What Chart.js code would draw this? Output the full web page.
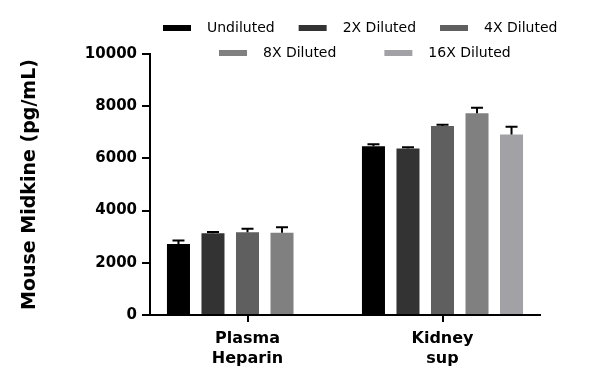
<!DOCTYPE html>
<html>
<head>
<meta charset="utf-8">
<script src="https://cdn.jsdelivr.net/npm/chart.js@4.4.1/dist/chart.umd.min.js"></script>
<style>
  html, body { margin: 0; padding: 0; background: #fff; }
  #wrap { width: 600px; height: 390px; }
</style>
</head>
<body>
<div id="wrap"><canvas id="myChart"></canvas></div>
<script>
var categories = [['Plasma', 'Heparin'], ['Kidney', 'sup']];
var seriesNames = ['Undiluted', '2X Diluted', '4X Diluted', '8X Diluted', '16X Diluted'];
var seriesColors = ['#000000', '#333333', '#5f5f5f', '#808080', '#a2a2a6'];

// mean values per dilution: [Plasma Heparin, Kidney sup]
var undiluted = [2720, 6470];
var diluted2x = [3130, 6380];
var diluted4x = [3170, 7240];
var diluted8x = [3150, 7730];
var diluted16x = [null, 6920];

// upper error (SD)
var errUndiluted = [130, 70];
var err2x = [50, 50];
var err4x = [130, 50];
var err8x = [210, 210];
var err16x = [null, 290];

var yTicks = [0, 2000, 4000, 6000, 8000, 10000];

var seriesValues = [undiluted, diluted2x, diluted4x, diluted8x, diluted16x];
var seriesErrors = [errUndiluted, err2x, err4x, err8x, err16x];

var datasets = seriesNames.map(function (name, i) {
  return {
    label: name,
    data: seriesValues[i],
    errors: seriesErrors[i],
    backgroundColor: seriesColors[i],
    borderWidth: 0,
    categoryPercentage: 0.885,
    barPercentage: 0.667
  };
});

// error bars, drawn only upward
var errorBars = {
  id: 'errorBars',
  afterDatasetsDraw: function (chart) {
    var ctx = chart.ctx;
    var yScale = chart.scales.y;
    ctx.save();
    ctx.strokeStyle = '#000';
    ctx.lineWidth = 2;
    chart.data.datasets.forEach(function (ds, di) {
      var meta = chart.getDatasetMeta(di);
      meta.data.forEach(function (bar, j) {
        var v = ds.data[j];
        var e = ds.errors[j];
        if (v == null || e == null) return;
        var top = yScale.getPixelForValue(v + e);
        ctx.beginPath();
        ctx.moveTo(bar.x, bar.y);
        ctx.lineTo(bar.x, top);
        ctx.moveTo(bar.x - 6, top);
        ctx.lineTo(bar.x + 6, top);
        ctx.stroke();
      });
    });
    ctx.restore();
  }
};

// two-row legend like the original figure
var legendRows = {
  id: 'legendRows',
  afterDraw: function (chart) {
    var ctx = chart.ctx;
    var rows = [
      { items: [0, 1, 2], x: 163, y: 28, gap: 24 },
      { items: [3, 4], x: 219, y: 53, gap: 48 }
    ];
    ctx.save();
    ctx.font = '14px "DejaVu Sans"';
    ctx.textBaseline = 'middle';
    rows.forEach(function (row) {
      var x = row.x;
      row.items.forEach(function (i) {
        ctx.fillStyle = seriesColors[i];
        ctx.fillRect(x, row.y - 3, 28, 6);
        x += 28 + 16;
        ctx.fillStyle = '#000';
        ctx.fillText(seriesNames[i], x, row.y);
        x += ctx.measureText(seriesNames[i]).width + row.gap;
      });
    });
    ctx.restore();
  }
};

var config = {
  type: 'bar',
  data: {
    labels: categories,
    datasets: datasets
  },
  options: {
    responsive: true,
    maintainAspectRatio: false,
    animation: false,
    layout: {
      padding: { top: 54, right: 60, left: 0, bottom: 0 }
    },
    plugins: {
      legend: { display: false },
      tooltip: { enabled: false }
    },
    scales: {
      x: {
        grid: {
          offset: false,
          drawOnChartArea: false,
          color: '#000',
          lineWidth: 2,
          tickLength: 7
        },
        border: { color: '#000', width: 2 },
        ticks: {
          color: '#000',
          padding: 7,
          font: { family: 'DejaVu Sans', size: 16, weight: 'bold', lineHeight: 1.25 },
          maxRotation: 0
        },
        afterFit: function (s) { s.height = 75; }
      },
      y: {
        min: 0,
        max: 10000,
        afterBuildTicks: function (s) {
          s.ticks = yTicks.map(function (v) { return { value: v }; });
        },
        grid: {
          drawOnChartArea: false,
          color: '#000',
          lineWidth: 2,
          tickLength: 8
        },
        border: { color: '#000', width: 2 },
        ticks: {
          color: '#000',
          padding: 5,
          font: { family: 'DejaVu Sans', size: 15, weight: 'bold' },
          callback: function (v) { return String(v); }
        },
        title: {
          display: true,
          text: 'Mouse Midkine (pg/mL)',
          color: '#000',
          padding: { top: 19, bottom: 0 },
          font: { family: 'DejaVu Sans', size: 19, weight: 'bold' }
        },
        afterFit: function (s) { s.width = 150; }
      }
    }
  },
  plugins: [errorBars, legendRows]
};

var myChart = new Chart(document.getElementById('myChart'), config);
</script>
</body>
</html>
